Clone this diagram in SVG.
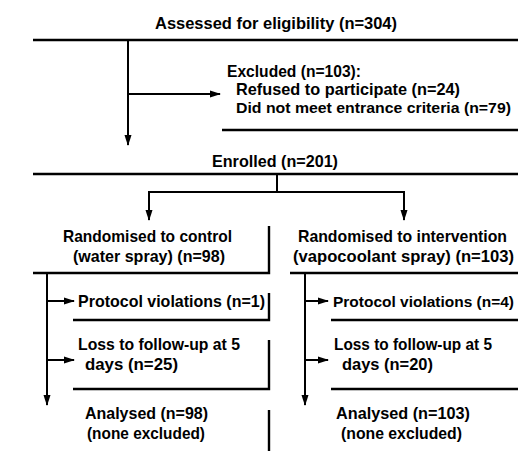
<svg xmlns="http://www.w3.org/2000/svg" width="518" height="451" viewBox="0 0 518 451">
<defs>
<marker id="ah" markerWidth="11" markerHeight="8" refX="10" refY="4" orient="auto" markerUnits="userSpaceOnUse">
<path d="M0,0.5 L11,4 L0,7.5 Z" fill="#000"/>
</marker>
<style>
text{font-family:"Liberation Sans",Arial,sans-serif;font-weight:bold;font-size:16.5px;fill:#000}
.s{font-size:15.5px}
.ln{stroke:#000;stroke-width:2.4;fill:none}
.c{stroke:#000;stroke-width:2;fill:none}
</style>
</defs>
<rect width="518" height="451" fill="#fff"/>
<g id="assessed">
<text x="155" y="29" textLength="242" lengthAdjust="spacingAndGlyphs">Assessed for eligibility (n=304)</text>
<line class="ln" x1="33" y1="40" x2="518" y2="40"/>
</g>
<g id="excluded">
<text x="227" y="77" textLength="134" lengthAdjust="spacingAndGlyphs">Excluded (n=103):</text>
<text x="236" y="95" textLength="224" lengthAdjust="spacingAndGlyphs">Refused to participate (n=24)</text>
<text class="s" x="236" y="113" textLength="275" lengthAdjust="spacingAndGlyphs">Did not meet entrance criteria (n=79)</text>
<line class="ln" x1="222" y1="130" x2="518" y2="130"/>
</g>
<g id="enrolled">
<text x="212" y="167" textLength="126" lengthAdjust="spacingAndGlyphs">Enrolled (n=201)</text>
<line class="ln" x1="33" y1="174" x2="518" y2="174"/>
</g>
<g id="control">
<text x="63" y="242" textLength="169" lengthAdjust="spacingAndGlyphs">Randomised to control</text>
<text x="73" y="262" textLength="152" lengthAdjust="spacingAndGlyphs">(water spray) (n=98)</text>
<polyline class="ln" points="269,226 269,273 33,273"/>
</g>
<g id="intervention">
<text x="298" y="242" textLength="209" lengthAdjust="spacingAndGlyphs">Randomised to intervention</text>
<text x="293" y="262" textLength="221" lengthAdjust="spacingAndGlyphs">(vapocoolant spray) (n=103)</text>
<line class="ln" x1="290" y1="273" x2="518" y2="273"/>
</g>
<g id="pv-control">
<text x="78" y="307" textLength="187" lengthAdjust="spacingAndGlyphs">Protocol violations (n=1)</text>
<polyline class="ln" points="269,293 269,320 73,320"/>
</g>
<g id="ltf-control">
<text x="78" y="350" textLength="162" lengthAdjust="spacingAndGlyphs">Loss to follow-up at 5</text>
<text x="85" y="370" textLength="93" lengthAdjust="spacingAndGlyphs">days (n=25)</text>
<polyline class="ln" points="269,340 269,389 73,389"/>
</g>
<g id="an-control">
<text x="85" y="419" textLength="123" lengthAdjust="spacingAndGlyphs">Analysed (n=98)</text>
<text x="87" y="439" textLength="118" lengthAdjust="spacingAndGlyphs">(none excluded)</text>
<line class="ln" x1="269" y1="410" x2="269" y2="451"/>
</g>
<g id="pv-int">
<text class="s" x="333" y="307" textLength="181" lengthAdjust="spacingAndGlyphs">Protocol violations (n=4)</text>
<line class="ln" x1="331" y1="320" x2="518" y2="320"/>
</g>
<g id="ltf-int">
<text x="334" y="350" textLength="158" lengthAdjust="spacingAndGlyphs">Loss to follow-up at 5</text>
<text x="342" y="370" textLength="91" lengthAdjust="spacingAndGlyphs">days (n=20)</text>
<line class="ln" x1="331" y1="389" x2="518" y2="389"/>
</g>
<g id="an-int">
<text x="336" y="419" textLength="134" lengthAdjust="spacingAndGlyphs">Analysed (n=103)</text>
<text x="341" y="439" textLength="121" lengthAdjust="spacingAndGlyphs">(none excluded)</text>
</g>
<g id="connectors">
<line class="c" x1="128" y1="40" x2="128" y2="145" marker-end="url(#ah)"/>
<line class="c" x1="128" y1="94" x2="220" y2="94" marker-end="url(#ah)"/>
<line class="c" x1="277" y1="174" x2="277" y2="192"/>
<polyline class="c" points="149,220 149,192 404,192 404,220" marker-end="url(#ah)"/>
<line class="c" x1="149" y1="192" x2="149" y2="220" marker-end="url(#ah)"/>
<line class="c" x1="47" y1="273" x2="47" y2="405" marker-end="url(#ah)"/>
<line class="c" x1="47" y1="301" x2="74" y2="301" marker-end="url(#ah)"/>
<line class="c" x1="47" y1="360" x2="74" y2="360" marker-end="url(#ah)"/>
<line class="c" x1="305" y1="273" x2="305" y2="405" marker-end="url(#ah)"/>
<line class="c" x1="305" y1="301" x2="328" y2="301" marker-end="url(#ah)"/>
<line class="c" x1="305" y1="360" x2="328" y2="360" marker-end="url(#ah)"/>
</g>
</svg>
